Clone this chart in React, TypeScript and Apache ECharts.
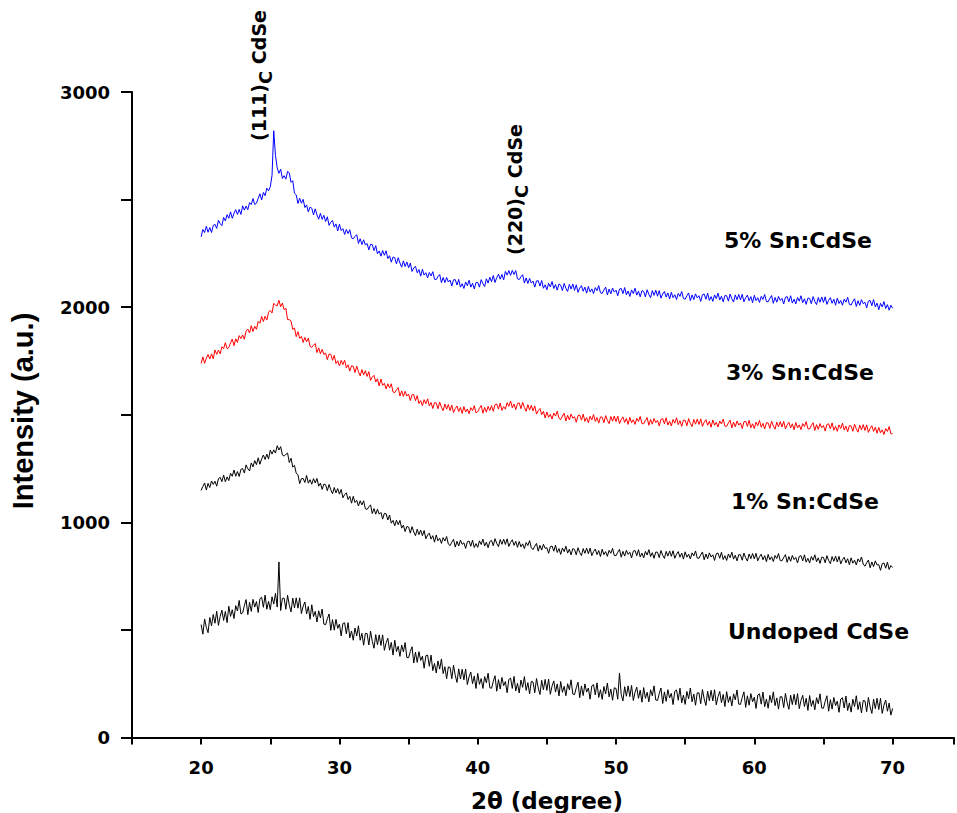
import React, { useEffect, useRef } from 'react';
import * as echarts from 'echarts';

// XRD scans, 2θ from 20° to 70° in 0.125° steps (8 readings per degree)
const ANGLE_START = 20;
const ANGLE_STEP = 0.125;

const sn5: number[] = [
  2327, 2361, 2347, 2376, 2348, 2370, 2347, 2380, // 20
  2385, 2366, 2404, 2388, 2379, 2417, 2401, 2430, // 21
  2413, 2443, 2413, 2436, 2453, 2431, 2454, 2431, // 22
  2471, 2451, 2470, 2453, 2486, 2477, 2505, 2477, // 23
  2483, 2506, 2527, 2498, 2533, 2518, 2553, 2541, // 24
  2560, 2612, 2820, 2705, 2648, 2622, 2641, 2598, // 25
  2611, 2595, 2631, 2624, 2580, 2588, 2529, 2522, // 26
  2482, 2506, 2483, 2501, 2463, 2475, 2443, 2465, // 27
  2460, 2429, 2457, 2429, 2409, 2436, 2408, 2427, // 28
  2398, 2420, 2380, 2395, 2403, 2372, 2387, 2354, // 29
  2386, 2356, 2365, 2338, 2361, 2342, 2360, 2322, // 30
  2318, 2329, 2337, 2296, 2318, 2291, 2313, 2289, // 31
  2296, 2266, 2292, 2291, 2263, 2286, 2248, 2261, // 32
  2237, 2263, 2241, 2262, 2226, 2239, 2209, 2233, // 33
  2230, 2201, 2230, 2205, 2186, 2215, 2189, 2210, // 34
  2183, 2205, 2166, 2182, 2190, 2160, 2175, 2144, // 35
  2176, 2149, 2160, 2136, 2161, 2145, 2165, 2130, // 36
  2128, 2142, 2152, 2114, 2138, 2114, 2138, 2117, // 37
  2126, 2098, 2127, 2128, 2103, 2129, 2093, 2109, // 38
  2087, 2117, 2100, 2125, 2093, 2111, 2085, 2114, // 39
  2115, 2093, 2128, 2109, 2096, 2132, 2112, 2139, // 40
  2118, 2147, 2115, 2137, 2153, 2130, 2152, 2127, // 41
  2166, 2149, 2170, 2148, 2171, 2152, 2170, 2132, // 42
  2128, 2141, 2151, 2112, 2136, 2110, 2134, 2112, // 43
  2121, 2093, 2122, 2123, 2098, 2124, 2088, 2104, // 44
  2081, 2111, 2094, 2119, 2087, 2105, 2079, 2108, // 45
  2102, 2077, 2110, 2088, 2073, 2106, 2084, 2108, // 46
  2078, 2104, 2069, 2088, 2100, 2074, 2093, 2065, // 47
  2096, 2071, 2085, 2063, 2091, 2077, 2100, 2067, // 48
  2064, 2080, 2093, 2057, 2084, 2062, 2089, 2070, // 49
  2079, 2053, 2084, 2087, 2063, 2091, 2057, 2075, // 50
  2050, 2080, 2063, 2088, 2056, 2074, 2048, 2077, // 51
  2073, 2048, 2081, 2059, 2044, 2077, 2055, 2079, // 52
  2051, 2077, 2042, 2061, 2073, 2047, 2066, 2038, // 53
  2069, 2044, 2058, 2036, 2064, 2050, 2073, 2040, // 54
  2037, 2053, 2066, 2030, 2057, 2035, 2062, 2043, // 55
  2053, 2027, 2058, 2061, 2037, 2065, 2031, 2049, // 56
  2027, 2057, 2040, 2065, 2033, 2051, 2025, 2054, // 57
  2053, 2028, 2061, 2039, 2024, 2057, 2035, 2059, // 58
  2034, 2060, 2025, 2044, 2056, 2030, 2049, 2021, // 59
  2055, 2030, 2044, 2022, 2050, 2036, 2059, 2026, // 60
  2025, 2041, 2054, 2018, 2045, 2023, 2050, 2031, // 61
  2041, 2015, 2046, 2049, 2025, 2053, 2019, 2037, // 62
  2015, 2045, 2028, 2053, 2021, 2039, 2013, 2042, // 63
  2041, 2016, 2049, 2027, 2012, 2045, 2023, 2047, // 64
  2022, 2048, 2013, 2032, 2044, 2018, 2037, 2009, // 65
  2042, 2017, 2031, 2009, 2037, 2023, 2046, 2013, // 66
  2010, 2026, 2039, 2003, 2030, 2008, 2035, 2016, // 67
  2023, 1997, 2028, 2031, 2007, 2035, 2001, 2019, // 68
  1988, 2018, 2001, 2026, 1994, 2012, 1986, 2009, // 69
  1995, // 70
];

const sn3: number[] = [
  1738, 1769, 1739, 1763, 1780, 1759, 1783, 1760, // 20
  1801, 1781, 1800, 1783, 1816, 1807, 1835, 1807, // 21
  1813, 1834, 1852, 1821, 1853, 1836, 1868, 1854, // 22
  1871, 1851, 1889, 1898, 1880, 1914, 1887, 1911, // 23
  1897, 1934, 1925, 1957, 1933, 1958, 1940, 1976, // 24
  1985, 1973, 2018, 2009, 2006, 2032, 2002, 2019, // 25
  1988, 1995, 1942, 1942, 1935, 1897, 1903, 1863, // 26
  1886, 1855, 1864, 1836, 1859, 1839, 1856, 1818, // 27
  1813, 1823, 1831, 1789, 1811, 1783, 1804, 1780, // 28
  1786, 1756, 1782, 1781, 1753, 1776, 1738, 1751, // 29
  1727, 1753, 1733, 1754, 1718, 1732, 1703, 1728, // 30
  1725, 1696, 1726, 1700, 1681, 1710, 1685, 1705, // 31
  1678, 1700, 1660, 1675, 1683, 1652, 1667, 1634, // 32
  1666, 1637, 1646, 1620, 1644, 1625, 1644, 1606, // 33
  1603, 1616, 1626, 1587, 1611, 1585, 1609, 1587, // 34
  1596, 1566, 1594, 1593, 1565, 1589, 1552, 1566, // 35
  1542, 1570, 1551, 1574, 1541, 1557, 1529, 1556, // 36
  1555, 1528, 1559, 1535, 1519, 1550, 1526, 1548, // 37
  1519, 1545, 1510, 1529, 1541, 1515, 1534, 1506, // 38
  1538, 1513, 1527, 1505, 1533, 1519, 1542, 1509, // 39
  1514, 1530, 1543, 1507, 1534, 1512, 1539, 1520, // 40
  1542, 1516, 1547, 1550, 1526, 1554, 1520, 1538, // 41
  1526, 1556, 1539, 1564, 1532, 1550, 1524, 1553, // 42
  1555, 1528, 1558, 1534, 1516, 1547, 1522, 1544, // 43
  1518, 1541, 1503, 1519, 1529, 1500, 1516, 1485, // 44
  1513, 1488, 1502, 1480, 1508, 1494, 1517, 1484, // 45
  1478, 1494, 1507, 1471, 1498, 1476, 1503, 1484, // 46
  1491, 1465, 1496, 1499, 1475, 1503, 1469, 1487, // 47
  1463, 1493, 1476, 1501, 1469, 1487, 1461, 1490, // 48
  1488, 1463, 1496, 1474, 1459, 1492, 1470, 1494, // 49
  1468, 1494, 1459, 1478, 1490, 1464, 1483, 1455, // 50
  1488, 1463, 1477, 1455, 1483, 1469, 1492, 1459, // 51
  1458, 1474, 1487, 1451, 1478, 1456, 1483, 1464, // 52
  1474, 1448, 1479, 1482, 1458, 1486, 1452, 1470, // 53
  1448, 1478, 1461, 1486, 1454, 1472, 1446, 1475, // 54
  1474, 1449, 1482, 1460, 1445, 1478, 1456, 1480, // 55
  1455, 1481, 1446, 1465, 1477, 1451, 1470, 1442, // 56
  1476, 1451, 1465, 1443, 1471, 1457, 1480, 1447, // 57
  1446, 1462, 1475, 1439, 1466, 1444, 1471, 1452, // 58
  1462, 1436, 1467, 1470, 1446, 1474, 1440, 1458, // 59
  1436, 1466, 1449, 1474, 1442, 1460, 1434, 1463, // 60
  1462, 1437, 1470, 1448, 1433, 1466, 1444, 1468, // 61
  1443, 1469, 1434, 1453, 1465, 1439, 1458, 1430, // 62
  1464, 1439, 1453, 1431, 1459, 1445, 1468, 1435, // 63
  1434, 1450, 1463, 1427, 1454, 1432, 1459, 1440, // 64
  1450, 1424, 1455, 1458, 1434, 1462, 1428, 1446, // 65
  1423, 1453, 1436, 1461, 1429, 1447, 1421, 1450, // 66
  1448, 1423, 1456, 1434, 1419, 1452, 1430, 1454, // 67
  1427, 1453, 1418, 1437, 1449, 1423, 1442, 1414, // 68
  1441, 1416, 1430, 1408, 1436, 1422, 1445, 1412, // 69
  1412, // 70
];

const sn1: number[] = [
  1148, 1167, 1183, 1150, 1181, 1162, 1192, 1176, // 20
  1191, 1168, 1203, 1209, 1189, 1220, 1189, 1211, // 21
  1194, 1228, 1214, 1243, 1214, 1236, 1213, 1246, // 22
  1250, 1229, 1267, 1249, 1239, 1276, 1258, 1287, // 23
  1268, 1300, 1270, 1295, 1313, 1292, 1317, 1294, // 24
  1336, 1317, 1337, 1322, 1356, 1336, 1352, 1313, // 25
  1308, 1316, 1322, 1278, 1298, 1257, 1265, 1228, // 26
  1221, 1180, 1203, 1204, 1185, 1218, 1182, 1198, // 27
  1177, 1203, 1183, 1204, 1168, 1182, 1153, 1178, // 28
  1175, 1147, 1176, 1151, 1133, 1162, 1137, 1157, // 29
  1131, 1153, 1114, 1129, 1137, 1106, 1121, 1089, // 30
  1121, 1092, 1102, 1076, 1100, 1081, 1100, 1063, // 31
  1060, 1072, 1081, 1041, 1064, 1038, 1061, 1038, // 32
  1046, 1015, 1042, 1040, 1011, 1034, 996, 1009, // 33
  984, 1010, 989, 1009, 973, 987, 957, 981, // 34
  978, 950, 980, 955, 938, 968, 943, 964, // 35
  938, 962, 924, 941, 950, 922, 938, 908, // 36
  941, 914, 926, 902, 929, 913, 934, 899, // 37
  892, 908, 921, 885, 912, 890, 917, 898, // 38
  905, 879, 910, 913, 889, 917, 883, 901, // 39
  884, 914, 897, 922, 890, 908, 882, 911, // 40
  916, 891, 924, 902, 887, 920, 898, 922, // 41
  897, 923, 888, 907, 919, 893, 912, 884, // 42
  911, 886, 900, 878, 906, 892, 915, 882, // 43
  873, 889, 902, 866, 893, 871, 898, 879, // 44
  882, 856, 887, 890, 866, 894, 860, 878, // 45
  851, 881, 864, 889, 857, 875, 849, 878, // 46
  874, 849, 882, 860, 845, 878, 856, 880, // 47
  854, 880, 845, 864, 876, 850, 869, 841, // 48
  875, 850, 864, 842, 870, 856, 879, 846, // 49
  845, 861, 874, 838, 865, 843, 870, 851, // 50
  861, 835, 866, 869, 845, 873, 839, 857, // 51
  835, 865, 848, 873, 841, 859, 833, 862, // 52
  861, 836, 869, 847, 832, 865, 843, 867, // 53
  842, 868, 833, 852, 864, 838, 857, 829, // 54
  863, 838, 852, 830, 858, 844, 867, 834, // 55
  833, 849, 862, 826, 853, 831, 858, 839, // 56
  849, 823, 854, 857, 833, 861, 827, 845, // 57
  823, 853, 836, 861, 829, 847, 821, 850, // 58
  849, 824, 857, 835, 820, 853, 831, 855, // 59
  830, 856, 821, 840, 852, 826, 845, 817, // 60
  851, 826, 840, 818, 846, 832, 855, 822, // 61
  821, 837, 850, 814, 841, 819, 846, 827, // 62
  837, 811, 842, 845, 821, 849, 815, 833, // 63
  811, 841, 824, 849, 817, 835, 809, 838, // 64
  837, 812, 845, 823, 808, 841, 819, 843, // 65
  816, 842, 807, 826, 838, 812, 831, 803, // 66
  835, 810, 824, 802, 830, 816, 839, 806, // 67
  796, 812, 825, 789, 816, 794, 821, 802, // 68
  803, 777, 808, 811, 787, 815, 781, 799, // 69
  790, // 70
];

const undoped: number[] = [
  525, 480, 551, 512, 487, 558, 519, 572, // 20
  531, 587, 521, 563, 592, 544, 586, 534, // 21
  610, 563, 594, 553, 613, 588, 637, 574, // 22
  579, 613, 641, 571, 628, 586, 642, 606, // 23
  632, 581, 645, 652, 605, 662, 596, 633, // 24
  594, 654, 620, 670, 606, 816, 590, 647, // 25
  648, 596, 661, 615, 584, 648, 602, 649, // 26
  601, 649, 576, 610, 630, 574, 609, 549, // 27
  617, 562, 586, 537, 589, 556, 597, 527, // 28
  524, 552, 574, 498, 548, 499, 549, 507, // 29
  527, 472, 530, 533, 482, 534, 463, 495, // 30
  452, 509, 472, 519, 452, 484, 429, 484, // 31
  483, 430, 494, 447, 415, 478, 431, 477, // 32
  428, 477, 405, 440, 461, 406, 442, 383, // 33
  452, 399, 424, 377, 430, 398, 441, 372, // 34
  371, 399, 422, 346, 397, 349, 399, 358, // 35
  378, 322, 380, 383, 331, 383, 311, 344, // 36
  300, 356, 318, 365, 297, 329, 273, 328, // 37
  326, 273, 336, 289, 256, 319, 272, 317, // 38
  268, 318, 246, 282, 304, 250, 286, 228, // 39
  298, 247, 274, 228, 283, 254, 299, 231, // 40
  229, 261, 287, 215, 269, 225, 279, 241, // 41
  260, 208, 270, 276, 228, 284, 216, 252, // 42
  207, 267, 233, 283, 219, 255, 203, 261, // 43
  258, 208, 274, 230, 200, 266, 222, 270, // 44
  219, 271, 201, 239, 263, 211, 249, 193, // 45
  260, 210, 238, 194, 250, 222, 268, 202, // 46
  199, 231, 257, 185, 239, 195, 249, 211, // 47
  230, 178, 240, 246, 198, 254, 186, 222, // 48
  177, 237, 203, 253, 189, 225, 173, 231, // 49
  228, 178, 300, 200, 170, 236, 192, 240, // 50
  190, 242, 172, 210, 234, 182, 220, 164, // 51
  232, 182, 210, 166, 222, 194, 240, 174, // 52
  172, 204, 230, 158, 212, 168, 222, 184, // 53
  205, 153, 215, 221, 173, 229, 161, 197, // 54
  154, 214, 180, 230, 166, 202, 150, 208, // 55
  207, 157, 223, 179, 149, 215, 171, 219, // 56
  170, 222, 152, 190, 214, 162, 200, 144, // 57
  213, 163, 191, 147, 203, 175, 221, 155, // 58
  154, 186, 212, 140, 194, 150, 204, 166, // 59
  187, 135, 197, 203, 155, 211, 143, 179, // 60
  136, 196, 162, 212, 148, 184, 132, 190, // 61
  189, 139, 205, 161, 131, 197, 153, 201, // 62
  152, 204, 134, 172, 196, 144, 182, 126, // 63
  195, 145, 173, 129, 185, 157, 203, 137, // 64
  136, 168, 194, 122, 176, 132, 186, 148, // 65
  169, 117, 179, 185, 137, 193, 125, 161, // 66
  118, 178, 144, 194, 130, 166, 114, 172, // 67
  170, 120, 186, 142, 112, 178, 134, 182, // 68
  130, 182, 112, 150, 174, 122, 160, 104, // 69
  135, // 70
];

const seriesNames = ['Undoped CdSe', '1% Sn:CdSe', '3% Sn:CdSe', '5% Sn:CdSe'];
const seriesColors = ['#000000', '#000000', '#ff0000', '#0000ff'];
const seriesValues = [undoped, sn1, sn3, sn5];

const X_MIN = 15;
const X_MAX = 74.44;
const X_INTERVAL = 5;
const Y_MIN = 0;
const Y_MAX = 3000;
const Y_INTERVAL = 500;

const BOLD_WIDE = 'DejaVu Sans';
const PEAK_FONT_SIZE = 19;
const SUB_FONT_SIZE = 18;

function toPairs(values: number[]): [number, number][] {
  return values.map((v, i) => [ANGLE_START + i * ANGLE_STEP, v]);
}

function measure(text: string, size: number): number {
  const ctx = document.createElement('canvas').getContext('2d');
  if (!ctx) return text.length * size * 0.65;
  ctx.font = `bold ${size}px "${BOLD_WIDE}"`;
  return ctx.measureText(text).width;
}

// Vertical reflection label "(hkl)_C CdSe", read bottom to top, with a subscript C
function peakLabel(hkl: string, x: number, y: number) {
  const w1 = measure(hkl, PEAK_FONT_SIZE);
  const w2 = measure('C', SUB_FONT_SIZE);
  const base = {
    fontFamily: BOLD_WIDE,
    fontWeight: 'bold',
    fill: '#000',
    align: 'left',
    verticalAlign: 'top',
  };
  return {
    type: 'group',
    x,
    y,
    rotation: Math.PI / 2,
    children: [
      { type: 'text', x: 0, y: 0, style: { ...base, text: hkl, fontSize: PEAK_FONT_SIZE } },
      { type: 'text', x: w1, y: 7, style: { ...base, text: 'C', fontSize: SUB_FONT_SIZE } },
      { type: 'text', x: w1 + w2, y: 0, style: { ...base, text: ' CdSe', fontSize: PEAK_FONT_SIZE } },
    ],
  };
}

function sampleLabel(text: string, x: number, y: number) {
  return {
    type: 'text',
    x,
    y,
    style: {
      text,
      fontFamily: BOLD_WIDE,
      fontWeight: 'bold',
      fontSize: 22,
      fill: '#000',
      align: 'left',
      verticalAlign: 'middle',
    },
  };
}

export default function App() {
  const ref = useRef<HTMLDivElement>(null);

  useEffect(() => {
    if (!ref.current) return;
    const chart = echarts.init(ref.current, undefined, { renderer: 'svg' });

    const axisTextStyle = {
      fontFamily: BOLD_WIDE,
      fontWeight: 'bold' as const,
      fontSize: 18,
      color: '#000',
    };

    chart.setOption({
      animation: false,
      backgroundColor: '#ffffff',
      grid: { left: 132, right: 0, top: 92, bottom: 75.5, containLabel: false },
      xAxis: {
        type: 'value',
        min: X_MIN,
        max: X_MAX,
        interval: X_INTERVAL,
        axisLine: { show: true, lineStyle: { color: '#000', width: 2 } },
        axisTick: { show: true, length: 7, lineStyle: { color: '#000', width: 2 } },
        axisLabel: {
          ...axisTextStyle,
          margin: 21,
          formatter: (v: number) => (v % 10 === 0 ? String(v) : ''),
        },
        splitLine: { show: false },
      },
      yAxis: {
        type: 'value',
        min: Y_MIN,
        max: Y_MAX,
        interval: Y_INTERVAL,
        axisLine: { show: true, lineStyle: { color: '#000', width: 2 } },
        axisTick: { show: true, length: 11, lineStyle: { color: '#000', width: 2 } },
        axisLabel: {
          ...axisTextStyle,
          margin: 22,
          formatter: (v: number) => (v % 1000 === 0 ? String(v) : ''),
        },
        splitLine: { show: false },
      },
      series: seriesValues.map((vals, i) => ({
        name: seriesNames[i],
        type: 'line',
        data: toPairs(vals),
        symbol: 'none',
        showSymbol: false,
        lineStyle: { color: seriesColors[i], width: 1 },
        itemStyle: { color: seriesColors[i] },
      })),
      graphic: [
        {
          type: 'text',
          x: 8,
          y: 411,
          rotation: Math.PI / 2,
          style: {
            text: 'Intensity (a.u.)',
            fontFamily: 'Liberation Sans',
            fontWeight: 'bold',
            fontSize: 29,
            fill: '#000',
            align: 'center',
            verticalAlign: 'top',
          },
        },
        {
          type: 'text',
          x: 547,
          y: 801,
          style: {
            text: '2θ (degree)',
            fontFamily: BOLD_WIDE,
            fontWeight: 'bold',
            fontSize: 23,
            fill: '#000',
            align: 'center',
            verticalAlign: 'middle',
          },
        },
        peakLabel('(111)', 249, 141),
        peakLabel('(220)', 505, 255),
        sampleLabel(seriesNames[3], 724, 240),
        sampleLabel(seriesNames[2], 726, 372),
        sampleLabel(seriesNames[1], 731, 501),
        sampleLabel(seriesNames[0], 728, 631),
      ],
    });

    return () => chart.dispose();
  }, []);

  return (
    <div
      ref={ref}
      style={{ position: 'fixed', left: 0, top: 0, width: 957, height: 813, background: '#fff' }}
    />
  );
}
